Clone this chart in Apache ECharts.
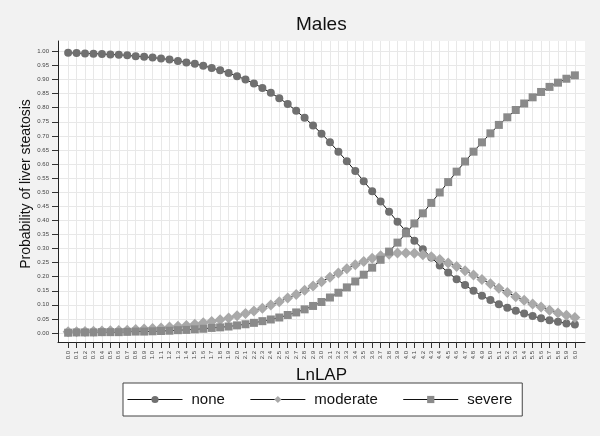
<!DOCTYPE html>
<html>
<head>
<meta charset="utf-8">
<script src="https://cdn.jsdelivr.net/npm/echarts@6/dist/echarts.min.js"></script>
<style>
html,body{margin:0;padding:0;background:#f2f2f2;}
#chart{width:600px;height:436px;}
</style>
</head>
<body>
<div id="chart"></div>
<script>
// LnLAP values (x)
const lnlap = [0.0,0.1,0.2,0.3,0.4,0.5,0.6,0.7,0.8,0.9,1.0,1.1,1.2,1.3,1.4,1.5,1.6,1.7,1.8,1.9,2.0,2.1,2.2,2.3,2.4,2.5,2.6,2.7,2.8,2.9,3.0,3.1,3.2,3.3,3.4,3.5,3.6,3.7,3.8,3.9,4.0,4.1,4.2,4.3,4.4,4.5,4.6,4.7,4.8,4.9,5.0,5.1,5.2,5.3,5.4,5.5,5.6,5.7,5.8,5.9,6.0];

// Probability of each steatosis grade
const none = [0.995,0.994,0.993,0.992,0.991,0.989,0.988,0.986,0.983,0.981,0.978,0.975,0.971,0.966,0.961,0.956,0.949,0.941,0.933,0.923,0.912,0.900,0.886,0.870,0.853,0.834,0.813,0.789,0.764,0.737,0.708,0.677,0.644,0.610,0.575,0.539,0.503,0.467,0.431,0.395,0.361,0.328,0.297,0.268,0.240,0.215,0.191,0.170,0.150,0.132,0.117,0.102,0.090,0.079,0.069,0.060,0.052,0.045,0.040,0.034,0.030];
const moderate = [0.004,0.004,0.005,0.006,0.007,0.008,0.009,0.010,0.012,0.014,0.016,0.018,0.021,0.024,0.027,0.031,0.036,0.041,0.047,0.053,0.061,0.069,0.078,0.088,0.099,0.111,0.124,0.137,0.152,0.167,0.182,0.198,0.213,0.228,0.242,0.254,0.265,0.274,0.280,0.284,0.284,0.283,0.278,0.271,0.261,0.249,0.236,0.221,0.206,0.190,0.175,0.159,0.144,0.129,0.116,0.103,0.092,0.081,0.071,0.063,0.055];
const severe = [0.001,0.002,0.002,0.002,0.003,0.003,0.003,0.004,0.005,0.005,0.006,0.007,0.008,0.010,0.011,0.013,0.015,0.018,0.020,0.023,0.027,0.031,0.036,0.042,0.048,0.055,0.064,0.073,0.084,0.096,0.110,0.126,0.143,0.162,0.183,0.207,0.232,0.260,0.289,0.321,0.354,0.389,0.425,0.462,0.499,0.536,0.573,0.609,0.644,0.677,0.709,0.739,0.766,0.792,0.815,0.837,0.856,0.874,0.889,0.903,0.915];

// tick values
const xTicks = lnlap;
const yTicks = [0.00,0.05,0.10,0.15,0.20,0.25,0.30,0.35,0.40,0.45,0.50,0.55,0.60,0.65,0.70,0.75,0.80,0.85,0.90,0.95,1.00];

const seriesNames = ['none','moderate','severe'];

const FONT = "'Liberation Sans', Arial, Helvetica, sans-serif";
const chart = echarts.init(document.getElementById('chart'), null, {renderer:'canvas'});

function pairs(ys){ return lnlap.map((x,i)=>[x, ys[i]]); }

const option = {
  backgroundColor: '#f2f2f2',
  animation: false,
  title: {
    text: 'Males',
    left: 296, top: 15, padding: 0,
    textStyle: {fontFamily: FONT, fontSize: 19, fontWeight: 'normal', color: '#111'}
  },
  graphic: [{
    type: 'text', x: 26, y: 184, rotation: Math.PI/2,
    style: {text: 'Probability of liver steatosis', fontFamily: FONT, fontSize: 14,
            fill: '#111', align: 'center', verticalAlign: 'middle'}
  }],
  legend: {
    data: seriesNames,
    left: 123, top: 383,
    orient: 'horizontal',
    itemWidth: 55, itemHeight: 9, itemGap: 25,
    padding: [9, 10, 9, 4],
    backgroundColor: '#fff', borderColor: '#444', borderWidth: 1, borderRadius: 0,
    lineStyle: {width: 1, color: '#111'},
    textStyle: {fontFamily: FONT, fontSize: 15, color: '#111', padding: [0,0,0,4]}
  },
  grid: {
    left: 58, top: 41, right: 15, bottom: 94,
    show: true, backgroundColor: '#ffffff', borderWidth: 0,
    containLabel: false
  },
  xAxis: {
    type: 'value', min: -0.12, max: 6.12,
    name: 'LnLAP', nameLocation: 'middle', nameGap: 14,
    nameTextStyle: {fontFamily: FONT, fontSize: 17, color: '#111', verticalAlign: 'top'},
    axisLine: {show: true, onZero: false, lineStyle: {color: '#222', width: 1}},
    axisTick: {show: true, length: 6, customValues: xTicks, lineStyle: {color: '#333'}},
    axisLabel: {customValues: xTicks, rotate: 90, margin: 9, fontSize: 6, fontFamily: FONT, color: '#444',
                formatter: v => v.toFixed(1)},
    splitLine: {show: true, lineStyle: {color: '#e8e8e8', width: 1}}
  },
  yAxis: {
    type: 'value', min: -0.032, max: 1.037,
    axisLine: {show: true, onZero: false, lineStyle: {color: '#222', width: 1}},
    axisTick: {show: true, length: 6, customValues: yTicks, lineStyle: {color: '#333'}},
    axisLabel: {customValues: yTicks, margin: 9, fontSize: 6, fontFamily: FONT, color: '#444',
                formatter: v => v.toFixed(2)},
    splitLine: {show: true, lineStyle: {color: '#e8e8e8', width: 1}}
  },
  series: [
    {name: 'none', type: 'line', data: pairs(none), symbol: 'circle', symbolSize: 8,
     itemStyle: {color: '#707070'}, lineStyle: {color: '#111', width: 1}},
    {name: 'moderate', type: 'line', data: pairs(moderate), symbol: 'diamond', symbolSize: 11,
     itemStyle: {color: '#a9a9a9'}, lineStyle: {color: '#111', width: 1}},
    {name: 'severe', type: 'line', data: pairs(severe), symbol: 'rect', symbolSize: 8,
     itemStyle: {color: '#8a8a8a'}, lineStyle: {color: '#111', width: 1}}
  ]
};
chart.setOption(option);
</script>
</body>
</html>
